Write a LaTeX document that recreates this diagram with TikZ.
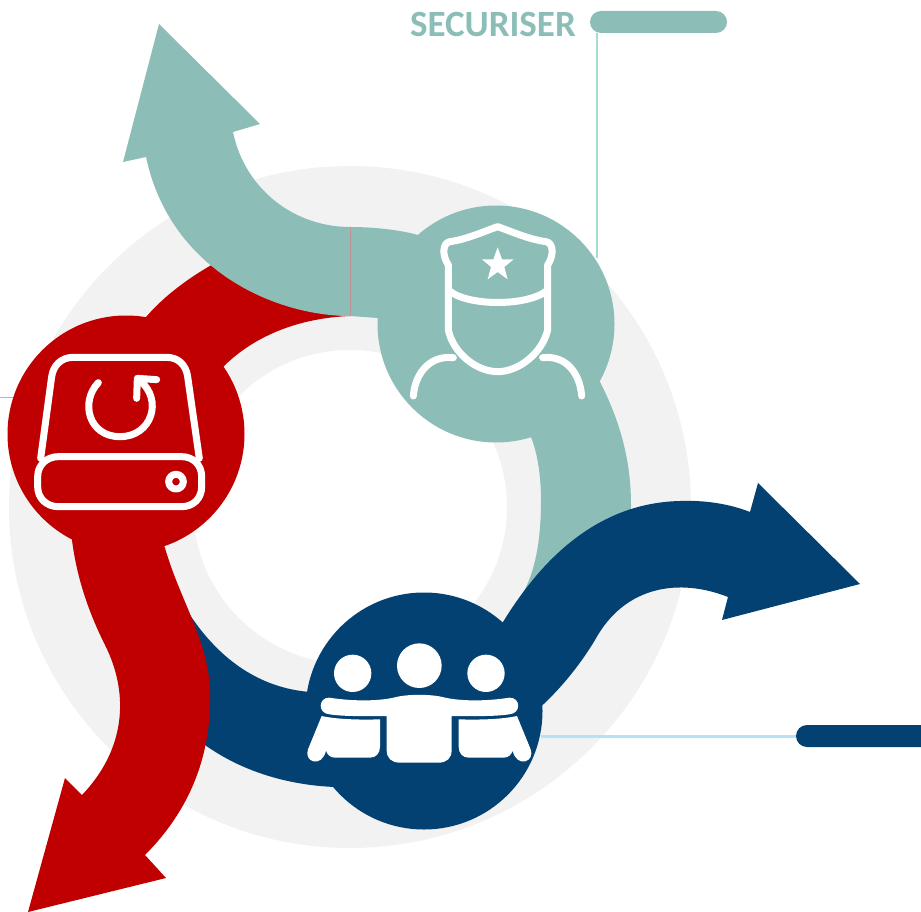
\documentclass[tikz,border=0pt]{standalone}
\usepackage{fontspec}
\setmainfont{Carlito}
\definecolor{ringgray}{HTML}{F2F2F2}
\definecolor{tealc}{HTML}{8CBEB7}
\definecolor{redc}{HTML}{C00000}
\definecolor{bluec}{HTML}{024172}
\definecolor{tealline}{HTML}{A3DDD2}
\definecolor{blueline}{HTML}{B5E2F7}
\definecolor{redline}{HTML}{E8A0A0}
\tikzset{
  hub/.style={circle,minimum size=237pt,inner sep=0pt,outer sep=0pt,fill=#1},
  pill/.style={rounded corners=11pt,minimum height=22pt,inner sep=0pt,outer sep=0pt,fill=#1},
  ico/.style={draw=white,line width=#1,line cap=round,line join=round},
  izoom/.style={x=0.33333pt,y=-0.33333pt}
}
\begin{document}
\begin{tikzpicture}[x=1pt,y=-1pt]
\useasboundingbox (0,0) rectangle (921,912);
% ring
\fill[ringgray,even odd rule] (350,507) circle[radius=341] (350,507) circle[radius=157];
% small stubs
\draw[redline,line width=0.8pt] (0,397) -- (14,397);
% blue left band
\fill[bluec] (190,615) .. controls (220,660) and (260,688) .. (310,692) -- (424,711) -- (335,787)
  .. controls (285,785) and (240,770) .. (205,745) -- cycle;
% red
\fill[redc] (146,317) .. controls (165,295) and (190,277) .. (215,263) -- (300,300) -- (350,316)
  .. controls (300,318) and (255,335) .. (223,367) -- (126,434) -- cycle;
\fill[redc] (72,540) .. controls (77,580) and (90,615) .. (105,645) .. controls (130,695) and (125,750) .. (82,795)
  -- (65,778) -- (28,912) -- (166,878) -- (145,855)
  .. controls (190,810) and (212,755) .. (210,690) .. controls (208,640) and (180,600) .. (165,548) -- (126,434) -- cycle;
\node[hub=redc] (redhub) at (126,434) {};
% teal
\fill[tealc] (146,157) -- (123,162) -- (159,24) -- (260,124) -- (233,132)
  .. controls (245,190) and (295,227) .. (350,227) .. controls (375,227) and (400,230) .. (418,235)
  -- (450,300) -- (378,318) -- (350,316) .. controls (275,316) and (170,270) .. (146,157) -- cycle;
\fill[tealc] (598,378) .. controls (620,420) and (631,460) .. (631,505) .. controls (631,540) and (620,570) .. (600,600)
  -- (520,600) -- (527,585) .. controls (538,560) and (541,530) .. (541,500) .. controls (541,475) and (537,450) .. (530,435) -- cycle;
\node[hub=tealc] (tealhub) at (496,324) {};
\draw[redline!60!gray,line width=0.6pt] (350,227) -- (350,316);
% blue arrow
\fill[bluec] (503,622) .. controls (535,570) and (590,503) .. (680,501) .. controls (705,500) and (730,504) .. (750,512)
  -- (758,483) -- (860,584) -- (722,620) -- (728,597)
  .. controls (680,578) and (625,585) .. (595,640) .. controls (580,665) and (560,690) .. (535,712) -- (440,700) -- cycle;
\node[hub=bluec] (bluehub) at (424,711) {};
% label pills and leaders
\node[pill=tealc,minimum width=137pt] (tealpill) at (658.5,22) {};
\node[pill=bluec,minimum width=140pt] (bluepill) at (866,736) {};
\coordinate (tealdrop) at (597,33);
\coordinate (tealend) at (597,258);
\draw[tealline,line width=1.8pt] (tealdrop) -- (tealend);
\coordinate (blueend) at (541,736);
\draw[blueline,line width=3pt] (blueend) -- (bluepill.west);
\node[font=\bfseries,text=tealc,anchor=base east,inner sep=0pt] (title) at (576,37) {\fontsize{37}{37}\selectfont SECURISER};
% police icon
\begin{scope}[shift={(370,190)},izoom]
  \draw[ico=7pt] (383,110) .. controls (340,125) and (290,148) .. (240,155)
    .. controls (218,158) and (215,195) .. (235,225) -- (235,420)
    .. controls (250,490) and (320,545) .. (383,545)
    .. controls (446,545) and (516,490) .. (533,420) -- (533,225)
    .. controls (553,195) and (550,158) .. (528,155)
    .. controls (476,148) and (426,125) .. (383,110) -- cycle;
  \draw[ico=7pt] (235,300) .. controls (290,350) and (476,350) .. (533,300);
  \draw[ico=7pt] (250,503) .. controls (180,495) and (135,550) .. (130,618);
  \draw[ico=7pt] (518,503) .. controls (588,495) and (630,550) .. (635,618);
  \fill[white] (383,172) -- (396,208) -- (431,208) -- (403,231) -- (413,268) -- (383,246) -- (353,268) -- (363,231) -- (336,208) -- (370,208) -- cycle;
\end{scope}
% drive icon
\begin{scope}[shift={(0,310)},izoom]
  \draw[ico=7pt] (122,445) -- (155,200) .. controls (160,165) and (185,142) .. (220,142)
    -- (500,142) .. controls (535,142) and (558,165) .. (563,200) -- (598,445);
  \draw[ico=7pt] (175,440) -- (545,440) .. controls (580,440) and (605,465) .. (605,500) -- (605,530)
    .. controls (605,565) and (580,590) .. (545,590) -- (175,590)
    .. controls (140,590) and (113,565) .. (113,530) -- (113,500)
    .. controls (113,465) and (140,440) .. (175,440) -- cycle;
  \draw[ico=7pt] (528,515) circle[radius=22];
  \draw[ico=7pt] (295,218) .. controls (240,275) and (265,380) .. (360,380)
    .. controls (455,380) and (490,270) .. (420,212);
  \draw[ico=7pt] (410,265) -- (412,205) -- (470,209);
\end{scope}
% team icon
\begin{scope}[shift={(300,590)},izoom]
  \fill[white] (158,250) circle[radius=56];
  \fill[white] (358,227) circle[radius=67];
  \fill[white] (558,250) circle[radius=56];
  \fill[white] (88,323) .. controls (150,333) and (230,335) .. (285,322) .. controls (320,312) and (395,312) .. (431,322)
    .. controls (486,335) and (566,333) .. (628,323) .. controls (662,322) and (665,370) .. (628,373)
    .. controls (580,380) and (520,378) .. (455,378) -- (455,480) .. controls (455,505) and (440,518) .. (415,518)
    -- (300,518) .. controls (275,518) and (260,505) .. (260,480) -- (260,378)
    .. controls (195,378) and (135,380) .. (88,373) .. controls (52,370) and (55,322) .. (88,323) -- cycle;
  \fill[white] (65,378) .. controls (110,388) and (180,390) .. (240,388) -- (240,470)
    .. controls (240,490) and (228,503) .. (210,503) -- (105,503) .. controls (92,503) and (82,495) .. (78,482)
    .. controls (72,508) and (55,518) .. (40,514) .. controls (25,510) and (18,495) .. (24,478) -- cycle;
  \fill[white] (651,378) .. controls (606,388) and (536,390) .. (476,388) -- (476,470)
    .. controls (476,490) and (488,503) .. (506,503) -- (611,503) .. controls (624,503) and (634,495) .. (638,482)
    .. controls (644,508) and (661,518) .. (676,514) .. controls (691,510) and (698,495) .. (692,478) -- cycle;
\end{scope}
\end{tikzpicture}
\end{document}
